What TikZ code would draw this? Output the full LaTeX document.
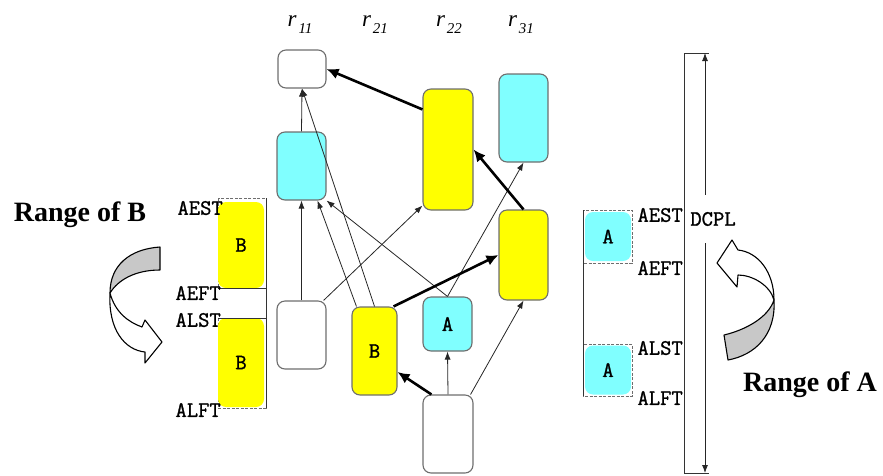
\documentclass[tikz,border=0pt]{standalone}
\usepackage{fontspec}
\setmainfont{Liberation Serif}
\newfontfamily\typefont[AutoFakeBold=1.2]{Latin Modern Mono}
\usetikzlibrary{arrows.meta,calc}
\definecolor{taskyellow}{RGB}{255,255,0}
\definecolor{taskcyan}{RGB}{128,255,255}
\definecolor{edgegray}{RGB}{110,110,110}
\definecolor{tailgray}{RGB}{200,200,200}
\tikzset{
  task/.style={draw=edgegray, line width=1.1pt, rounded corners=8pt, inner sep=0pt,
    font=\typefont\bfseries\fontsize{22}{22}\selectfont},
  white task/.style={task, fill=white},
  yellow task/.style={task, fill=taskyellow},
  cyan task/.style={task, fill=taskcyan},
  slot/.style={draw=edgegray, line width=0.8pt, dash pattern=on 3pt off 1.5pt},
  frame/.style={draw=black!80, line width=0.9pt},
  thin arrow/.style={draw=black!85, line width=0.8pt, -{Latex[length=8pt,width=6pt]}},
  thick arrow/.style={draw=black, line width=2.6pt, -{Latex[length=12pt,width=11pt]}},
  timelabel/.style={font=\typefont\bfseries\fontsize{22}{22}\selectfont, inner sep=0pt},
  rangelabel/.style={font=\bfseries\fontsize{28}{28}\selectfont, inner sep=0pt},
  collabel/.style={font=\itshape\fontsize{23}{23}\selectfont, inner sep=0pt},
  block arrow/.style={draw=black, line width=1.1pt, line join=round},
}
\newcommand{\rlab}[1]{r\kern2pt\raisebox{-7pt}{\fontsize{15}{15}\selectfont #1}}
\begin{document}
\begin{tikzpicture}[x=1pt,y=-1pt]
\useasboundingbox (0,0) rectangle (883,475);

% column headings
\node[collabel] (h11) at (300,25) {\rlab{11}};
\node[collabel] (h21) at (375,25) {\rlab{21}};
\node[collabel] (h22) at (449,25) {\rlab{22}};
\node[collabel] (h31) at (521,25) {\rlab{31}};

% task graph
\node[white task, minimum width=48pt, minimum height=38pt] (t11) at (302,69) {};
\node[cyan task,  minimum width=49pt, minimum height=68pt] (c11) at (301.5,166) {};
\node[white task, minimum width=49pt, minimum height=68pt] (w11) at (301.5,335) {};
\node[yellow task,minimum width=45pt, minimum height=88pt] (b21) at (374.5,351) {B};
\node[yellow task,minimum width=50pt, minimum height=121pt] (y22) at (448,149.5) {};
\node[cyan task,  minimum width=49pt, minimum height=54pt] (a22) at (447.5,324) {A};
\node[white task, minimum width=50pt, minimum height=78pt] (w22) at (448,434) {};
\node[cyan task,  minimum width=49pt, minimum height=88pt] (c31) at (523.5,118) {};
\node[yellow task,minimum width=49pt, minimum height=90pt] (y31) at (523.5,255) {};

% ordinary precedence edges
\draw[thin arrow] (c11.north) -- (t11.south);
\draw[thin arrow] (b21.north) -- (t11.south);
\draw[thin arrow] ($(b21.north west)+(5,0)$) -- ($(c11.south)+(16,0)$);
\draw[thin arrow] (a22.north) -- (c11.south east);
\draw[thin arrow] (w11.north) -- (c11.south);
\draw[thin arrow] ($(w11.north east)+(-3,0)$) -- ($(y22.south west)+(0,-5)$);
\draw[thin arrow] (a22.north) -- (c31.south);
\draw[thin arrow] (w22.north) -- (a22.south);
\draw[thin arrow] ($(w22.north east)+(-3,0)$) -- (y31.south);

% critical path edges
\draw[thick arrow] ($(y22.north west)+(0,21)$) -- (t11.east);
\draw[thick arrow] (y31.north) -- (y22.east);
\draw[thick arrow] ($(b21.north east)+(-4,0)$) -- (y31.west);
\draw[thick arrow] ($(w22.north west)+(9,0)$) -- ($(b21.east)+(0,21)$);

% range of B
\draw[slot] (218,198) rectangle (266,288);
\draw[slot] (218,318) rectangle (266,408);
\node[yellow task, draw=none, minimum width=46pt, minimum height=86pt] (bea) at (241,245) {B};
\node[yellow task, draw=none, minimum width=46pt, minimum height=89pt] (bla) at (241,362.5) {B};
\draw[frame] (266,198) -- (266,408);
\draw[frame] (218,288) -- (266,288);
\draw[frame] (218,318) -- (266,318);
\node[timelabel, anchor=east] (baest) at (223,208) {AEST};
\node[timelabel, anchor=east] (baeft) at (221,293) {AEFT};
\node[timelabel, anchor=east] (balst) at (221,320) {ALST};
\node[timelabel, anchor=east] (balft) at (221,410) {ALFT};
\node[rangelabel] (rb) at (80,215) {Range of B};

% curved block arrow for B
\draw[block arrow, fill=tailgray] (160,247) .. controls (130,249) and (110,265) .. (110,293)
  .. controls (118,280) and (135,270) .. (160,270) -- cycle;
\draw[block arrow, fill=white] (110,293) .. controls (108,330) and (125,350) .. (145,352)
  -- (145,363) -- (162,342) -- (145,320) -- (142,327)
  .. controls (128,322) and (115,312) .. (110,293) -- cycle;

% range of A
\draw[slot] (583,210) rectangle (632,263);
\draw[slot] (583,344) rectangle (632,396);
\node[cyan task, draw=none, minimum width=46pt, minimum height=49pt] (aea) at (608,236.5) {A};
\node[cyan task, draw=none, minimum width=46pt, minimum height=49pt] (ala) at (608,370) {A};
\draw[frame] (583,210) -- (583,396);
\node[timelabel, anchor=east] (aaest) at (683,215) {AEST};
\node[timelabel, anchor=east] (aaeft) at (683,268) {AEFT};
\node[timelabel, anchor=east] (aalst) at (683,348) {ALST};
\node[timelabel, anchor=east] (aalft) at (683,398) {ALFT};
\node[rangelabel] (ra) at (810,385) {Range of A};

% curved block arrow for A
\draw[block arrow, fill=tailgray] (774,300) .. controls (776,335) and (755,355) .. (728,360)
  -- (724,335) .. controls (745,330) and (768,318) .. (774,300) -- cycle;
\draw[block arrow, fill=white] (774,300) .. controls (774,272) and (758,252) .. (738,250)
  -- (732,240) -- (717,263) -- (737,287) -- (738,275)
  .. controls (752,275) and (770,285) .. (774,300) -- cycle;

% DCPL bar
\coordinate (dtop) at (705,53);
\coordinate (dbot) at (705,473);
\draw[frame] (684,53) -- (684,473);
\draw[frame] (684,53) -- (709,53);
\draw[frame] (684,473) -- (709,473);
\node[timelabel, minimum height=48pt] (dcpl) at (713,219) {DCPL};
\draw[thin arrow] (dcpl.north -| dtop) -- (dtop);
\draw[thin arrow] (dcpl.south -| dbot) -- (dbot);
\end{tikzpicture}
\end{document}
